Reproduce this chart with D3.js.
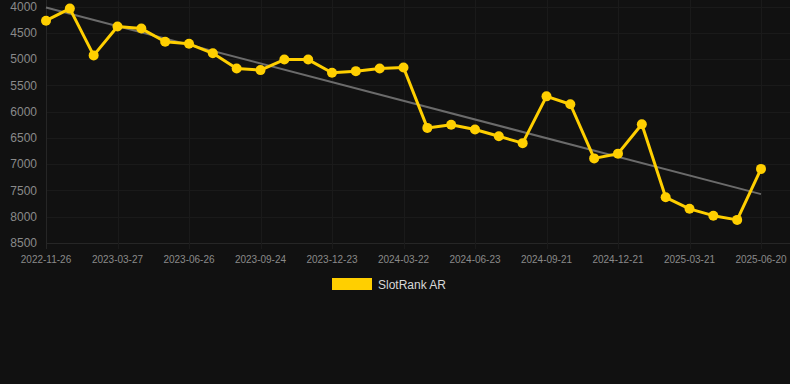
<!DOCTYPE html>
<html>
<head>
<meta charset="utf-8">
<script src="https://cdn.jsdelivr.net/npm/d3@7"></script>
<style>
  html, body { margin: 0; padding: 0; background: #111111; }
  svg { display: block; font-family: "Liberation Sans", Arial, sans-serif; }
</style>
</head>
<body>
<svg id="mainsvg" width="790" height="384"></svg>
<script>
var dates = [
  "2022-11-26", "2023-01-25", "2023-02-25", "2023-03-27", "2023-04-26", "2023-05-27",
  "2023-06-26", "2023-07-26", "2023-08-25", "2023-09-24", "2023-10-24", "2023-11-23",
  "2023-12-23", "2024-01-22", "2024-02-21", "2024-03-22", "2024-04-23", "2024-05-23",
  "2024-06-23", "2024-07-23", "2024-08-22", "2024-09-21", "2024-10-21", "2024-11-21",
  "2024-12-21", "2025-01-20", "2025-02-19", "2025-03-21", "2025-04-21", "2025-05-21",
  "2025-06-20"
];
var rankAR = [
  4270, 4040, 4930, 4380, 4420, 4670, 4710, 4890, 5180, 5210, 5010, 5010,
  5260, 5230, 5180, 5160, 6310, 6250, 6340, 6470, 6600, 5710, 5860, 6890,
  6800, 6240, 7630, 7850, 7980, 8060, 7090
];
var yTicks = [4000, 4500, 5000, 5500, 6000, 6500, 7000, 7500, 8000, 8500];
var seriesName = "SlotRank AR";

var svg = d3.select("#mainsvg");
var x = d3.scalePoint().domain(dates).range([46, 761]);
var y = d3.scaleLinear().domain([4000, 8500]).range([6.5, 243]);

// grid
var grid = svg.append("g").attr("id", "grid");
grid.selectAll("line.h")
  .data(yTicks)
  .enter()
  .append("line")
  .attr("class", "h")
  .attr("x1", 46)
  .attr("x2", 790)
  .attr("y1", function (d) { return Math.round(y(d)) + 0.5; })
  .attr("y2", function (d) { return Math.round(y(d)) + 0.5; })
  .attr("stroke", function (d) { return d == 8500 ? "#262626" : "#1a1a1a"; })
  .attr("stroke-width", 1);

var shown = dates.filter(function (d, i) { return i % 3 == 0; });
grid.selectAll("line.v")
  .data(shown)
  .enter()
  .append("line")
  .attr("class", "v")
  .attr("x1", function (d) { return Math.round(x(d)) + 0.5; })
  .attr("x2", function (d) { return Math.round(x(d)) + 0.5; })
  .attr("y1", 0)
  .attr("y2", 249)
  .attr("stroke", function (d, i) { return i == 0 ? "#262626" : "#1a1a1a"; })
  .attr("stroke-width", 1);

// y axis labels
svg.append("g")
  .selectAll("text")
  .data(yTicks)
  .enter()
  .append("text")
  .attr("x", 37)
  .attr("y", function (d) { return y(d); })
  .attr("dy", "0.35em")
  .attr("text-anchor", "end")
  .attr("font-size", 12)
  .attr("fill", "#8a8a8a")
  .text(function (d) { return d; });

// x axis labels
svg.append("g")
  .selectAll("text")
  .data(shown)
  .enter()
  .append("text")
  .attr("x", function (d) { return x(d); })
  .attr("y", 263)
  .attr("text-anchor", "middle")
  .attr("font-size", 10)
  .attr("fill", "#8a8a8a")
  .text(function (d) { return d; });

// trend line (least squares over the series)
var n = rankAR.length;
var mx = d3.mean(rankAR, function (d, i) { return i; });
var my = d3.mean(rankAR);
var sxy = 0, sxx = 0;
rankAR.forEach(function (v, i) {
  sxy += (i - mx) * (v - my);
  sxx += (i - mx) * (i - mx);
});
var slope = sxy / sxx;
var icpt = my - slope * mx;
svg.append("line")
  .attr("x1", x(dates[0]))
  .attr("y1", y(icpt))
  .attr("x2", x(dates[n - 1]))
  .attr("y2", y(icpt + slope * (n - 1)))
  .attr("stroke", "#6b6b6b")
  .attr("stroke-width", 2);

// series
var line = d3
  .line()
  .x(function (d, i) { return x(dates[i]); })
  .y(function (d) { return y(d); });
svg.append("path")
  .datum(rankAR)
  .attr("d", line)
  .attr("fill", "none")
  .attr("stroke", "#ffcf00")
  .attr("stroke-width", 3)
  .attr("stroke-linejoin", "round");
svg.append("g")
  .selectAll("circle")
  .data(rankAR)
  .enter()
  .append("circle")
  .attr("cx", function (d, i) { return x(dates[i]); })
  .attr("cy", function (d) { return y(d); })
  .attr("r", 5)
  .attr("fill", "#ffcf00");

// legend
var lg = svg.append("g");
lg.append("rect")
  .attr("x", 332)
  .attr("y", 278)
  .attr("width", 40)
  .attr("height", 12)
  .attr("fill", "#ffcf00");
lg.append("text")
  .attr("x", 378)
  .attr("y", 284.5)
  .attr("dy", "0.35em")
  .attr("font-size", 12)
  .attr("fill", "#d8d8d8")
  .text(seriesName);
</script>
</body>
</html>
